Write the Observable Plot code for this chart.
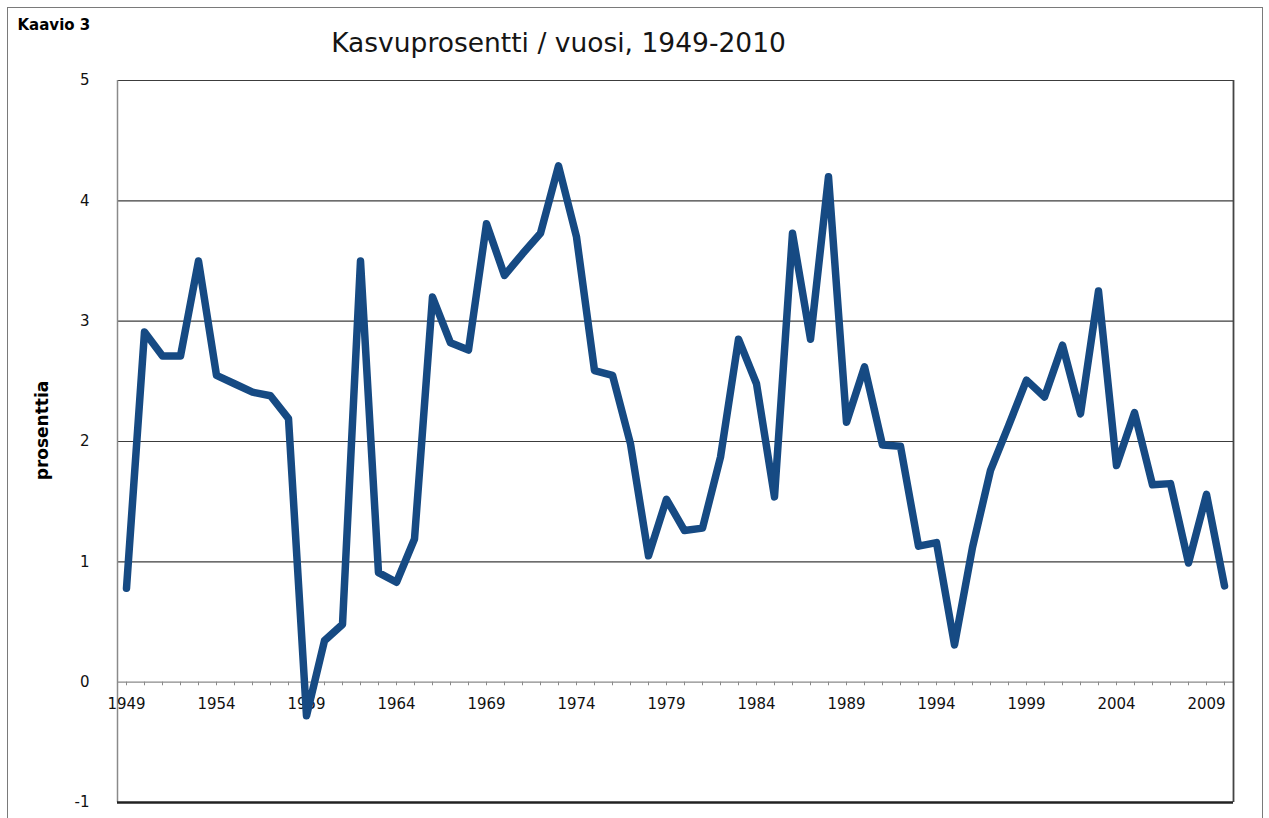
<!DOCTYPE html>
<html>
<head>
<meta charset="utf-8">
<script src="https://cdn.jsdelivr.net/npm/d3@7"></script>
<script src="https://cdn.jsdelivr.net/npm/@observablehq/plot@0.6"></script>
<style>
  html, body { margin: 0; padding: 0; background: #fff; }
  #wrap { position: relative; width: 1269px; height: 818px; overflow: hidden; background: #fff; }
  #wrap svg { position: absolute; left: 0; top: 0; }
  #outer { position: absolute; left: 7px; top: 7px; width: 1254px; height: 900px; border: 1.5px solid #7a7a7a; pointer-events: none; }
</style>
</head>
<body>
<div id="wrap"><div id="outer"></div></div>
<script>
const titleText = "Kasvuprosentti / vuosi, 1949-2010";
const chartLabel = "Kaavio 3";
const yLabel = "prosenttia";

const years = d3.range(1949, 2011);
const growth = [
  0.78, 2.91, 2.71, 2.71, 3.50, 2.55, 2.48, 2.41, 2.38, 2.19,
  -0.28, 0.345, 0.48, 3.50, 0.91, 0.83, 1.19, 3.20, 2.82, 2.76,
  3.81, 3.38, 3.56, 3.73, 4.29, 3.70, 2.59, 2.55, 1.98, 1.05,
  1.52, 1.26, 1.28, 1.87, 2.85, 2.48, 1.54, 3.73, 2.85, 4.20,
  2.16, 2.62, 1.97, 1.96, 1.13, 1.16, 0.31, 1.12, 1.76, 2.13,
  2.51, 2.37, 2.80, 2.23, 3.25, 1.80, 2.24, 1.64, 1.65, 0.99,
  1.56, 0.80
];
const labelYears = [1949, 1954, 1959, 1964, 1969, 1974, 1979, 1984, 1989, 1994, 1999, 2004, 2009];
const yTicks = [-1, 0, 1, 2, 3, 4, 5];
const gridValues = [1, 2, 3, 4, 5];

const data = years.map((y, i) => ({year: y, value: growth[i]}));
const xDomain = [1948.5, 2010.5];
const yDomain = [-1, 5];

const chart = Plot.plot({
  width: 1269,
  height: 818,
  marginLeft: 117,
  marginRight: 36,
  marginTop: 80,
  marginBottom: 16,
  style: {fontFamily: "'DejaVu Sans', Verdana, sans-serif", fontSize: "15px", background: "transparent", color: "#111"},
  x: {domain: xDomain, axis: null},
  y: {domain: yDomain, axis: null},
  marks: [
    Plot.ruleY(gridValues, {stroke: "#3c3c3c", strokeWidth: 1.2}),
    Plot.ruleY([0], {stroke: "#8a8a8a", strokeWidth: 1.2}),
    Plot.ruleX(years, {x: d => d, y1: 0, y2: -0.03, stroke: "#8a8a8a", strokeWidth: 1}),
    Plot.ruleX([xDomain[0]], {stroke: "#8a8a8a", strokeWidth: 1.5}),
    Plot.ruleX([xDomain[1]], {stroke: "#444", strokeWidth: 1.8}),
    Plot.ruleY([yDomain[0]], {stroke: "#222", strokeWidth: 2.5}),
    Plot.text(labelYears, {x: d => d, y: 0, dy: 22.5, text: d => String(d), fontSize: 15, fill: "#111"}),
    Plot.text(yTicks, {x: xDomain[0], y: d => d, dx: -28, textAnchor: "end", text: d => String(d), fontSize: 15, fill: "#111"}),
    Plot.line(data, {x: "year", y: "value", stroke: "#164a83", strokeWidth: 7.5, strokeLinecap: "round", strokeLinejoin: "round"}),
    Plot.text([titleText], {frameAnchor: "top", textAnchor: "middle", lineAnchor: "middle", dx: -117, dy: -37, text: d => d, fontSize: 26.5, fill: "#151515"}),
    Plot.text([chartLabel], {frameAnchor: "top-left", textAnchor: "start", lineAnchor: "middle", dx: -100, dy: -55, text: d => d, fontSize: 15, fontWeight: "bold", fill: "#000"}),
    Plot.text([yLabel], {frameAnchor: "left", textAnchor: "middle", lineAnchor: "middle", rotate: -90, dx: -75, dy: -11, text: d => d, fontSize: 17, fontWeight: "bold", fill: "#000"})
  ]
});
document.getElementById("wrap").insertBefore(chart, document.getElementById("outer"));
</script>
</body>
</html>
